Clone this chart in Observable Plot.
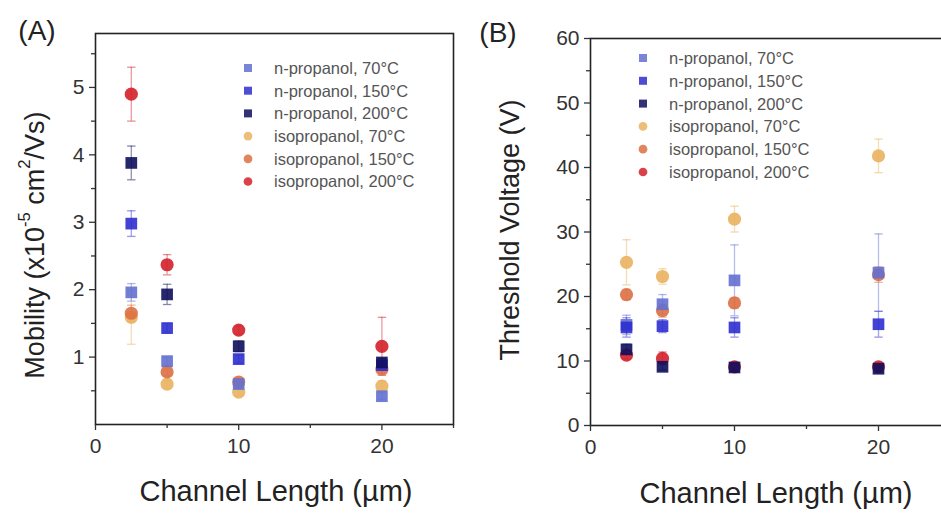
<!DOCTYPE html>
<html>
<head>
<meta charset="utf-8">
<script src="https://cdn.jsdelivr.net/npm/d3@7"></script>
<script src="https://cdn.jsdelivr.net/npm/@observablehq/plot@0.6"></script>
<style>
  html, body { margin: 0; padding: 0; background: #fff; }
  #wrap { position: relative; width: 941px; height: 513px; overflow: hidden; background: #fff; }
  #wrap svg { position: absolute; top: 0; overflow: visible; }
</style>
</head>
<body>
<div id="wrap"></div>
<script>
// ---------------- data ----------------
const channelLengths = [2.5, 5, 10, 20];
const seriesNames = [
  "n-propanol, 70°C", "n-propanol, 150°C", "n-propanol, 200°C",
  "isopropanol, 70°C", "isopropanol, 150°C", "isopropanol, 200°C"
];
const seriesSolvent = ["n-propanol", "n-propanol", "n-propanol", "isopropanol", "isopropanol", "isopropanol"];
const seriesColors = ["#6370d0", "#2e2ecf", "#0e0e5c", "#e9b360", "#dc7042", "#d3202a"];

// Mobility (x10^-5 cm^2/Vs)
const mobN70   = [1.96, 0.94, 0.60, 0.42];
const mobN150  = [2.98, 1.43, 0.97, 0.88];
const mobN200  = [3.88, 1.93, 1.16, 0.92];
const mobI70   = [1.59, 0.60, 0.48, 0.57];
const mobI150  = [1.65, 0.78, 0.63, 0.82];
const mobI200  = [4.90, 2.37, 1.40, 1.16];
const mobErrN70  = [0.13, 0.06, 0.05, 0.05];
const mobErrN150 = [0.19, 0.07, 0.06, 0.06];
const mobErrN200 = [0.25, 0.15, 0.08, 0.06];
const mobErrI70  = [0.40, 0.06, 0.05, 0.08];
const mobErrI150 = [0.12, 0.06, 0.05, 0.06];
const mobErrI200 = [0.40, 0.15, 0.06, 0.43];

// Threshold voltage (V)
const vthN70   = [15.6, 18.8, 22.5, 23.7];
const vthN150  = [15.2, 15.4, 15.2, 15.7];
const vthN200  = [11.8, 9.1, 9.0, 8.8];
const vthI70   = [25.3, 23.1, 32.0, 41.8];
const vthI150  = [20.3, 17.8, 19.0, 23.4];
const vthI200  = [10.9, 10.4, 9.1, 9.1];
const vthErrN70  = [1.5, 1.5, 5.5, 6.0];
const vthErrN150 = [1.5, 1.0, 1.5, 2.0];
const vthErrN200 = [0.8, 0.5, 0.5, 0.5];
const vthErrI70  = [3.5, 1.2, 2.0, 2.6];
const vthErrI150 = [0.8, 1.0, 0.8, 1.2];
const vthErrI200 = [0.6, 1.0, 0.6, 0.7];

const xTicks = [0, 10, 20];
const xMinorTicks = [5, 15, 25];
const mobTicks = [1, 2, 3, 4, 5];
const mobMinorTicks = [0.5, 1.5, 2.5, 3.5, 4.5, 5.5];
const vthTicks = [0, 10, 20, 30, 40, 50, 60];
const vthMinorTicks = [5, 15, 25, 35, 45, 55];

// ---------------- build rows ----------------
function buildRows(values, errs) {
  const rows = [];
  const order = [3, 4, 5, 0, 1, 2];
  for (const s of order) {
    channelLengths.forEach((L, i) => {
      rows.push({x: L, y: values[s][i], err: errs[s][i], series: seriesNames[s], solvent: seriesSolvent[s]});
    });
  }
  return rows;
}
const mobRows = buildRows([mobN70, mobN150, mobN200, mobI70, mobI150, mobI200],
                          [mobErrN70, mobErrN150, mobErrN200, mobErrI70, mobErrI150, mobErrI200]);
const vthRows = buildRows([vthN70, vthN150, vthN200, vthI70, vthI150, vthI200],
                          [vthErrN70, vthErrN150, vthErrN200, vthErrI70, vthErrI150, vthErrI200]);

const capSymbol = {
  draw(ctx, size) {
    const w = Math.sqrt(size / Math.PI) * 1.2;
    ctx.moveTo(-w, 0); ctx.lineTo(w, 0);
  }
};

const FONT = "'Liberation Sans', Arial, Helvetica, sans-serif";
const AXIS_COLOR = "#333";
const fmtInt = d3.format("d");

function panel({rows, yDomain, yTicks, yMinor, width, marginLeft, marginRight, marginTop, marginBottom}) {
  return Plot.plot({
    width, height: 513,
    marginLeft, marginRight, marginTop, marginBottom,
    style: {fontFamily: FONT, fontSize: "21px", color: AXIS_COLOR, background: "transparent", overflow: "visible"},
    x: {domain: [0, 25]},
    y: {domain: yDomain},
    color: {domain: seriesNames, range: seriesColors},
    symbol: {domain: ["n-propanol", "isopropanol"], range: ["square", "circle"]},
    marks: [
      Plot.ruleX(rows, {x: "x", y1: d => d.y - d.err, y2: d => d.y + d.err, stroke: "series", strokeOpacity: 0.45, strokeWidth: 1.3}),
      Plot.dot(rows, {x: "x", y: d => d.y + d.err, symbol: capSymbol, r: 3.5, stroke: "series", strokeOpacity: 0.5, strokeWidth: 1.3, fill: "none"}),
      Plot.dot(rows, {x: "x", y: d => d.y - d.err, symbol: capSymbol, r: 3.5, stroke: "series", strokeOpacity: 0.5, strokeWidth: 1.3, fill: "none"}),
      Plot.dot(rows, {x: "x", y: "y", symbol: "solvent", fill: "series", fillOpacity: 0.9, r: 6.6, stroke: "none"}),
      Plot.frame({stroke: "#222", strokeWidth: 1.6}),
      Plot.axisX({ticks: xTicks, tickFormat: fmtInt, tickSize: 6, tickPadding: 8, label: null, stroke: AXIS_COLOR, strokeWidth: 1.3}),
      Plot.axisX({ticks: xMinorTicks, tickSize: 4, text: null, label: null, stroke: AXIS_COLOR, strokeWidth: 1.3}),
      Plot.axisY({ticks: yTicks, tickFormat: fmtInt, tickSize: 6, tickPadding: 5, label: null, stroke: AXIS_COLOR, strokeWidth: 1.3}),
      Plot.axisY({ticks: yMinor, tickSize: 4, text: null, label: null, stroke: AXIS_COLOR, strokeWidth: 1.3})
    ]
  });
}

function addLegend(svg, mx, tx, y0, dy) {
  const g = d3.select(svg).append("g")
    .attr("font-family", FONT).attr("font-size", 16.5).attr("fill", "#555")
    .attr("text-anchor", "start");
  seriesNames.forEach((name, i) => {
    const y = y0 + dy * i;
    const sym = seriesSolvent[i] === "n-propanol" ? d3.symbolSquare : d3.symbolCircle;
    g.append("path")
      .attr("d", d3.symbol(sym, seriesSolvent[i] === "n-propanol" ? 64 : 60)())
      .attr("transform", `translate(${mx},${y})`)
      .attr("fill", seriesColors[i]).attr("fill-opacity", 0.85);
    g.append("text").attr("x", tx).attr("y", y).attr("dy", "0.36em")
      .attr("text-anchor", "start").text(name);
  });
}

function addText(svg, {x, y, text, size, rotate = false}) {
  const t = d3.select(svg).append("text")
    .attr("font-family", FONT).attr("font-size", size).attr("fill", "#222")
    .attr("text-anchor", "middle").attr("dominant-baseline", "middle")
    .attr("transform", `translate(${x},${y})` + (rotate ? " rotate(-90)" : ""));
  if (Array.isArray(text)) {
    for (const part of text) {
      const ts = t.append("tspan").text(part.t);
      if (part.sup) ts.attr("font-size", size * 0.62).attr("dy", -size * 0.42);
      else if (part.after) ts.attr("dy", size * 0.42);
    }
  } else t.text(text);
  return t;
}

const wrap = document.getElementById("wrap");

// Panel A
const svgA = panel({rows: mobRows, yDomain: [0, 5.8], yTicks: mobTicks, yMinor: mobMinorTicks,
  width: 470, marginLeft: 95, marginRight: 17, marginTop: 33, marginBottom: 89});
svgA.style.left = "0px";
wrap.appendChild(svgA);
addLegend(svgA, 248, 274, 68, 22.7);
addText(svgA, {x: 276, y: 493, text: "Channel Length (µm)", size: 29});
addText(svgA, {x: 37, y: 245, rotate: true, size: 27, text: [
  {t: "Mobility (x10"}, {t: "-5", sup: true}, {t: " cm", after: true}, {t: "2", sup: true}, {t: "/Vs)", after: true}
]});
addText(svgA, {x: 37, y: 33, text: "(A)", size: 28});

// Panel B
const svgB = panel({rows: vthRows, yDomain: [0, 60], yTicks: vthTicks, yMinor: vthMinorTicks,
  width: 490, marginLeft: 120, marginRight: 10, marginTop: 38, marginBottom: 88});
svgB.style.left = "470px";
wrap.appendChild(svgB);
addLegend(svgB, 173, 199, 58, 22.8);
addText(svgB, {x: 306, y: 495, text: "Channel Length (µm)", size: 29});
addText(svgB, {x: 42, y: 230, rotate: true, size: 27, text: "Threshold Voltage (V)"});
addText(svgB, {x: 28, y: 35, text: "(B)", size: 28});
</script>
</body>
</html>
